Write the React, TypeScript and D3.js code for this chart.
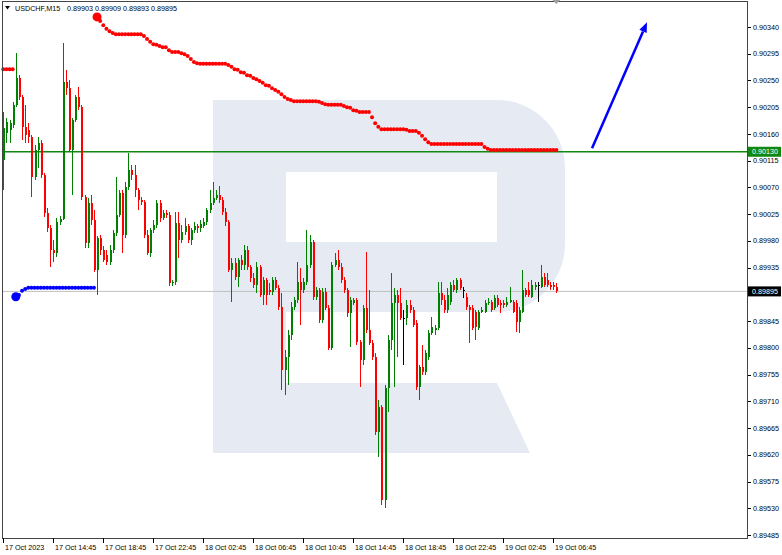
import React from "react";
import * as d3 from "d3";

// USDCHF M15 candles
const SYMBOL = "USDCHF,M15";

const OPEN = [
  0.90116, 0.90162, 0.90167, 0.90175, 0.90209, 0.90254, 0.90222, 0.90172, 0.90167, 0.90155,
  0.90088, 0.90133, 0.90145, 0.90091, 0.90027, 0.90002, 0.89965, 0.8996, 0.90012, 0.90017,
  0.90247, 0.90237, 0.90133, 0.90183, 0.90222, 0.90205, 0.90054, 0.89976, 0.90044, 0.90015,
  0.89931, 0.89985, 0.89965, 0.89956, 0.89944, 0.89965, 0.89993, 0.90024, 0.90061, 0.8999,
  0.90071, 0.90099, 0.90091, 0.90066, 0.90049, 0.90045, 0.8999, 0.8996, 0.89998, 0.90007,
  0.90044, 0.90019, 0.90027, 0.90024, 0.89909, 0.89911, 0.9001, 0.89981, 0.89995, 0.90005,
  0.89981, 0.89998, 0.90005, 0.90002, 0.90005, 0.90012, 0.90032, 0.90044, 0.90052, 0.90057,
  0.90049, 0.90029, 0.90012, 0.89931, 0.89943, 0.89919, 0.89948, 0.89939, 0.89965, 0.89936,
  0.89918, 0.89906, 0.89936, 0.89889, 0.89914, 0.89897, 0.89894, 0.89914, 0.89901, 0.89869,
  0.89763, 0.89785, 0.89822, 0.89869, 0.89881, 0.89911, 0.89897, 0.89911, 0.89939, 0.89978,
  0.89886, 0.89897, 0.89847, 0.89894, 0.89867, 0.898, 0.89939, 0.89948, 0.89936, 0.89914,
  0.89897, 0.89859, 0.89875, 0.89881, 0.8981, 0.8978, 0.89867, 0.8983, 0.89808, 0.89785,
  0.89658, 0.897, 0.89544, 0.89732, 0.89813, 0.89875, 0.89889, 0.89875, 0.8985, 0.8985,
  0.89872, 0.89864, 0.89842, 0.89734, 0.89768, 0.89759, 0.89785, 0.89825, 0.8983, 0.89833,
  0.89892, 0.89881, 0.89864, 0.89877, 0.89906, 0.89897, 0.89914, 0.89897, 0.89886, 0.89869,
  0.89867, 0.8986, 0.89833, 0.8986, 0.8986, 0.89875, 0.89877, 0.89867, 0.89884, 0.89875,
  0.89875, 0.89872, 0.89877, 0.89877, 0.89875, 0.89843, 0.8986, 0.89897, 0.89897, 0.89886,
  0.89902, 0.89906, 0.89902, 0.89919, 0.89914, 0.89906, 0.89906, 0.89903,
];

const HIGH = [
  0.90197, 0.90187, 0.90183, 0.90214, 0.90296, 0.90259, 0.90226, 0.90209, 0.90178, 0.90158,
  0.90141, 0.90155, 0.9015, 0.90094, 0.90035, 0.90007, 0.89981, 0.90019, 0.90022, 0.90313,
  0.90268, 0.90251, 0.90187, 0.90226, 0.90239, 0.90209, 0.90057, 0.90052, 0.90057, 0.90032,
  0.89988, 0.8999, 0.89971, 0.89965, 0.89973, 0.89998, 0.90088, 0.90066, 0.90066, 0.90079,
  0.90128, 0.90108, 0.90108, 0.90069, 0.90054, 0.90049, 0.89998, 0.90002, 0.90015, 0.90049,
  0.90049, 0.90032, 0.90032, 0.90029, 0.89914, 0.90029, 0.90029, 0.90007, 0.90019, 0.90008,
  0.90002, 0.90012, 0.90008, 0.90015, 0.90019, 0.90035, 0.90066, 0.90079, 0.90066, 0.90072,
  0.90054, 0.90035, 0.90015, 0.89951, 0.89951, 0.89951, 0.89956, 0.89973, 0.89971, 0.89939,
  0.89926, 0.89944, 0.89939, 0.89919, 0.89918, 0.89909, 0.89919, 0.89919, 0.89906, 0.89892,
  0.89796, 0.8983, 0.89877, 0.89886, 0.89944, 0.89934, 0.89918, 0.89998, 0.8999, 0.89981,
  0.89902, 0.89901, 0.89901, 0.89901, 0.89872, 0.89944, 0.8996, 0.89965, 0.89943, 0.89919,
  0.89901, 0.89886, 0.89884, 0.89884, 0.89813, 0.89872, 0.89961, 0.89897, 0.89813, 0.89791,
  0.89712, 0.89704, 0.89737, 0.89822, 0.89926, 0.89901, 0.89897, 0.89901, 0.89864, 0.89881,
  0.89881, 0.89869, 0.89847, 0.89771, 0.89805, 0.89796, 0.8983, 0.89852, 0.89838, 0.89911,
  0.89911, 0.89889, 0.89901, 0.89911, 0.89914, 0.89918, 0.89918, 0.89902, 0.89892, 0.89872,
  0.89872, 0.89864, 0.89864, 0.89869, 0.89881, 0.89884, 0.89881, 0.89889, 0.89889, 0.89881,
  0.89881, 0.89886, 0.89902, 0.89881, 0.89881, 0.89869, 0.89931, 0.89901, 0.89911, 0.89914,
  0.89911, 0.89911, 0.89939, 0.89926, 0.89926, 0.89911, 0.89911, 0.89909,
];

const LOW = [
  0.90066, 0.90145, 0.90145, 0.9017, 0.90205, 0.90217, 0.9015, 0.90145, 0.90145, 0.90054,
  0.90082, 0.90103, 0.90086, 0.9002, 0.89995, 0.89936, 0.89944, 0.89953, 0.90007, 0.90015,
  0.90226, 0.9013, 0.90057, 0.9018, 0.902, 0.90049, 0.89968, 0.89968, 0.90007, 0.89928,
  0.89889, 0.89956, 0.89944, 0.89939, 0.89939, 0.8996, 0.89988, 0.9002, 0.8996, 0.89985,
  0.90066, 0.90082, 0.90054, 0.90032, 0.9004, 0.89985, 0.89956, 0.89953, 0.89993, 0.90002,
  0.90012, 0.90015, 0.90019, 0.89904, 0.89904, 0.89906, 0.89951, 0.89976, 0.8999, 0.89976,
  0.89973, 0.89993, 0.89993, 0.89995, 0.90002, 0.90007, 0.90027, 0.9004, 0.90049, 0.90044,
  0.90024, 0.90005, 0.89928, 0.89877, 0.89914, 0.89902, 0.89931, 0.89931, 0.89931, 0.89911,
  0.89901, 0.89892, 0.89886, 0.89872, 0.89872, 0.89889, 0.89889, 0.89897, 0.89864, 0.89729,
  0.89721, 0.89737, 0.89813, 0.89864, 0.89875, 0.89838, 0.89892, 0.89906, 0.89934, 0.89881,
  0.89881, 0.89842, 0.89842, 0.89864, 0.89796, 0.89796, 0.89936, 0.89931, 0.89909, 0.89892,
  0.89852, 0.89801, 0.89872, 0.89805, 0.89734, 0.89771, 0.89825, 0.89805, 0.8978, 0.89653,
  0.89616, 0.89535, 0.8953, 0.89692, 0.89796, 0.89734, 0.89785, 0.89847, 0.89771, 0.89838,
  0.89859, 0.89835, 0.89729, 0.89712, 0.89754, 0.89754, 0.8978, 0.89822, 0.89822, 0.8983,
  0.89872, 0.89859, 0.89859, 0.89872, 0.89894, 0.89892, 0.89897, 0.89884, 0.89864, 0.89808,
  0.8983, 0.89813, 0.8983, 0.89859, 0.89859, 0.89872, 0.8986, 0.89864, 0.89869, 0.89859,
  0.89867, 0.89869, 0.89875, 0.89859, 0.89827, 0.89825, 0.89859, 0.89886, 0.89886, 0.89884,
  0.89897, 0.89877, 0.89901, 0.89902, 0.89902, 0.89897, 0.89897, 0.89893,
];

const CLOSE = [
  0.9017, 0.9018, 0.90178, 0.90209, 0.90254, 0.90222, 0.90172, 0.90158, 0.90155, 0.90088,
  0.90133, 0.90145, 0.90091, 0.90027, 0.90002, 0.89965, 0.8996, 0.90012, 0.90017, 0.90247,
  0.90237, 0.90133, 0.90183, 0.90222, 0.90205, 0.90054, 0.89976, 0.90044, 0.90015, 0.89931,
  0.89985, 0.89965, 0.89948, 0.89944, 0.89965, 0.89993, 0.90024, 0.90061, 0.8999, 0.90071,
  0.90099, 0.90091, 0.90066, 0.90049, 0.90045, 0.8999, 0.8996, 0.89998, 0.90007, 0.90044,
  0.90019, 0.90027, 0.90024, 0.89909, 0.89911, 0.9001, 0.89981, 0.89995, 0.90005, 0.89981,
  0.89998, 0.90005, 0.90002, 0.90008, 0.90012, 0.90032, 0.90044, 0.90052, 0.90057, 0.90049,
  0.90029, 0.90012, 0.89931, 0.89943, 0.89919, 0.89948, 0.89939, 0.89965, 0.89936, 0.89918,
  0.89906, 0.89936, 0.89889, 0.89914, 0.89889, 0.89894, 0.89914, 0.89901, 0.89869, 0.89763,
  0.89785, 0.89822, 0.89869, 0.89881, 0.89911, 0.89897, 0.89911, 0.89939, 0.89978, 0.89886,
  0.89897, 0.89847, 0.89894, 0.89867, 0.898, 0.89939, 0.89948, 0.89936, 0.89914, 0.89897,
  0.89859, 0.89881, 0.89881, 0.8981, 0.8978, 0.89867, 0.8983, 0.89808, 0.89785, 0.89658,
  0.897, 0.89544, 0.89732, 0.89813, 0.89875, 0.89889, 0.89875, 0.8985, 0.8985, 0.89872,
  0.89864, 0.89838, 0.89734, 0.89768, 0.89759, 0.89791, 0.89825, 0.89835, 0.89833, 0.89892,
  0.89881, 0.89864, 0.89889, 0.89906, 0.89897, 0.89914, 0.89901, 0.89897, 0.89869, 0.89864,
  0.89833, 0.89835, 0.8986, 0.89864, 0.89875, 0.89877, 0.89864, 0.89884, 0.89872, 0.89872,
  0.89872, 0.89877, 0.89881, 0.8986, 0.89843, 0.89864, 0.89897, 0.89889, 0.89889, 0.89906,
  0.89906, 0.89906, 0.89919, 0.89906, 0.89906, 0.89902, 0.89902, 0.89895,
];

// dotted trailing-stop indicator, split by colour
const SAR_EARLY_START = 0;
const SAR_EARLY = [0.90269, 0.90269, 0.90269, 0.90269];
const SAR_BLUE_START = 4;
const SAR_BLUE = [
  0.89886, 0.89889, 0.89896, 0.89899, 0.89901, 0.89901, 0.89901, 0.89901, 0.89901, 0.89901,
  0.89901, 0.89901, 0.89901, 0.89901, 0.89901, 0.89901, 0.89901, 0.89901, 0.89901, 0.89901,
  0.89901, 0.89901, 0.89901, 0.89901, 0.89901, 0.89901,
];
const SAR_RED_START = 30;
const SAR_RED = [
  0.90357, 0.9035, 0.90343, 0.90337, 0.90333, 0.9033, 0.90328, 0.90328, 0.90328, 0.90328,
  0.90328, 0.90328, 0.90328, 0.90328, 0.90328, 0.90325, 0.9032, 0.90315, 0.90311, 0.9031,
  0.90308, 0.90306, 0.90306, 0.90301, 0.90298, 0.90298, 0.90298, 0.90296, 0.90294, 0.90291,
  0.90286, 0.90281, 0.90279, 0.90278, 0.90278, 0.90278, 0.90278, 0.90278, 0.90278, 0.90278,
  0.90278, 0.90278, 0.90276, 0.90273, 0.90269, 0.90268, 0.90264, 0.90263, 0.90259, 0.90258,
  0.90254, 0.90252, 0.90249, 0.90246, 0.90242, 0.90241, 0.90237, 0.90234, 0.90231, 0.90227,
  0.90222, 0.90219, 0.90217, 0.90215, 0.90215, 0.90215, 0.90215, 0.90215, 0.90215, 0.90215,
  0.90215, 0.90214, 0.90212, 0.9021, 0.90209, 0.90209, 0.90209, 0.90209, 0.90209, 0.90207,
  0.90205, 0.90204, 0.902, 0.90199, 0.90197, 0.90197, 0.90197, 0.90197, 0.90188, 0.90178,
  0.90172, 0.90168, 0.90168, 0.90168, 0.90168, 0.90168, 0.90168, 0.90168, 0.90168, 0.90167,
  0.90165, 0.90165, 0.90165, 0.90162, 0.90157, 0.90151, 0.90146, 0.90143, 0.90143, 0.90143,
  0.90143, 0.90143, 0.90143, 0.90143, 0.90143, 0.90143, 0.90143, 0.90143, 0.90143, 0.90143,
  0.90143, 0.90143, 0.90143, 0.90143, 0.90138, 0.90135, 0.90133, 0.90133, 0.90133, 0.90133,
  0.90133, 0.90133, 0.90133, 0.90133, 0.90133, 0.90133, 0.90133, 0.90133, 0.90133, 0.90133,
  0.90133, 0.90133, 0.90133, 0.90133, 0.90133, 0.90133, 0.90133, 0.90133,
];

const LEVEL = 0.9013;
const ARROW_FROM = [188.4, 0.90136];
const ARROW_TO = [206, 0.90348];

const PRICE_TICKS = [
  0.89485, 0.8953, 0.89575, 0.8962, 0.89665, 0.8971, 0.89755, 0.898, 0.89845, 0.8989,
  0.89935, 0.8998, 0.90025, 0.9007, 0.90115, 0.9016, 0.90205, 0.9025, 0.90295, 0.9034,
];
const TIME_BARS = [0, 16, 32, 48, 64, 80, 96, 112, 128, 144, 160, 176];
const TIME_LABELS = [
  "17 Oct 2023", "17 Oct 14:45", "17 Oct 18:45", "17 Oct 22:45", "18 Oct 02:45", "18 Oct 06:45",
  "18 Oct 10:45", "18 Oct 14:45", "18 Oct 18:45", "18 Oct 22:45", "19 Oct 02:45", "19 Oct 06:45",
];

const W = 782;
const H = 555;
const FONT = "'Liberation Sans', Arial, sans-serif";
const BULL = "#008000";
const BEAR = "#ff0000";

// background logo, pure decoration
const LOGO =
  "M213,100 H497 A68,68 0 0 1 565,168 V244 A68,68 0 0 1 497,312 H286 V383 H497 L530,453 H213 Z " +
  "M286,172 V242 H497 V172 Z";

export default function App() {
  const n = CLOSE.length;
  const x = d3.scaleLinear().domain([0, n - 1]).range([3.3, 556.4]);
  const y = d3.scaleLinear().domain([0.89485, 0.9034]).range([535, 27]);
  const fmt = d3.format(".5f");
  const last = n - 1;

  const sarDots = (vals: number[], start: number, color: string, big: boolean) => (
    <g fill={color}>
      {vals.map((v, k) => (
        <circle key={k} cx={x(start + k)} cy={y(v)} r={2} />
      ))}
      {big && <circle cx={x(start)} cy={y(vals[0])} r={4.5} />}
    </g>
  );

  const ax0 = x(ARROW_FROM[0]);
  const ay0 = y(ARROW_FROM[1]);
  const ax1 = x(ARROW_TO[0]);
  const ay1 = y(ARROW_TO[1]);
  const ang = Math.atan2(ay1 - ay0, ax1 - ax0);
  const head = 10;
  const hx = ax1 - head * Math.cos(ang);
  const hy = ay1 - head * Math.sin(ang);
  const px = Math.sin(ang) * 4;
  const py = -Math.cos(ang) * 4;

  // price labels hidden behind the flag boxes
  const boxes = [y(LEVEL), y(CLOSE[last])];
  const visibleTicks = PRICE_TICKS.filter((t) => boxes.every((b) => Math.abs(y(t) - b) > 8));

  return (
    <svg
      width={W}
      height={H}
      style={{ position: "absolute", left: 0, top: 0, background: "#fff" }}
      fontFamily={FONT}
    >
      <rect width={W} height={H} fill="#fff" />
      <path d={LOGO} fill="#e6ebf3" fillRule="evenodd" />

      {/* levels */}
      <line x1={3} x2={747} y1={y(CLOSE[last])} y2={y(CLOSE[last])} stroke="#c0c0c0" strokeWidth={1} />
      <line x1={3} x2={747} y1={y(LEVEL)} y2={y(LEVEL)} stroke="#118811" strokeWidth={1.6} />

      {/* candles */}
      <g shapeRendering="crispEdges">
        {CLOSE.map((c, i) => {
          const o = OPEN[i];
          const cx = Math.round(x(i));
          const col = c > o ? BULL : c < o ? BEAR : "#000";
          const top = y(Math.max(o, c));
          const bh = Math.max(1, Math.abs(y(o) - y(c)));
          return (
            <g key={i} fill={col}>
              <rect x={cx} y={y(HIGH[i])} width={1} height={Math.max(1, y(LOW[i]) - y(HIGH[i]))} />
              <rect x={cx - 0.5} y={top} width={2} height={bh} />
            </g>
          );
        })}
      </g>

      {sarDots(SAR_EARLY, SAR_EARLY_START, "#ff0000", false)}
      {sarDots(SAR_BLUE, SAR_BLUE_START, "#0000ff", true)}
      {sarDots(SAR_RED, SAR_RED_START, "#ff0000", true)}

      {/* arrow */}
      <line x1={ax0} y1={ay0} x2={hx} y2={hy} stroke="#0000ff" strokeWidth={2.5} />
      <polygon
        points={`${ax1},${ay1} ${hx + px},${hy + py} ${hx - px},${hy - py}`}
        fill="#0000ff"
      />

      {/* frame */}
      <rect x={2.5} y={1.5} width={745} height={537} fill="none" stroke="#444" strokeWidth={1} />
      <polygon points={`${x(last) - 4},0 ${x(last) + 4},0 ${x(last)},4`} fill="#a0a0a0" />

      {/* header */}
      <polygon points="5,6 10,6 7.5,9.5" fill="#000" />
      <text x={15} y={11} fontSize={7.2} fill="#000">
        {SYMBOL}
      </text>
      <text x={67} y={11} fontSize={7.2} fill="#000">
        {`${fmt(OPEN[last])} ${fmt(HIGH[last])} ${fmt(LOW[last])} ${fmt(CLOSE[last])}`}
      </text>

      {/* price axis */}
      <g fontSize={7.2} fill="#000">
        {PRICE_TICKS.map((t) => (
          <line
            key={t}
            x1={748}
            x2={751}
            y1={Math.round(y(t)) + 0.5}
            y2={Math.round(y(t)) + 0.5}
            stroke="#000"
          />
        ))}
        {visibleTicks.map((t) => (
          <text key={t} x={753} y={y(t) + 2.6}>
            {fmt(t)}
          </text>
        ))}
      </g>
      <rect x={748} y={y(LEVEL) - 5} width={33} height={10} fill="#118811" />
      <text x={752} y={y(LEVEL) + 2.6} fontSize={7.2} fill="#fff">
        {fmt(LEVEL)}
      </text>
      <rect x={748} y={y(CLOSE[last]) - 5} width={33} height={10} fill="#000" />
      <text x={752} y={y(CLOSE[last]) + 2.6} fontSize={7.2} fill="#fff">
        {fmt(CLOSE[last])}
      </text>

      {/* time axis */}
      <g fontSize={7.2} fill="#000">
        {TIME_BARS.map((b, k) => {
          const tx = Math.round(x(b)) + 0.5;
          return (
            <g key={b}>
              <line x1={tx} x2={tx} y1={538} y2={543} stroke="#000" />
              <text x={tx + 1.5} y={550}>
                {TIME_LABELS[k]}
              </text>
            </g>
          );
        })}
      </g>
    </svg>
  );
}
